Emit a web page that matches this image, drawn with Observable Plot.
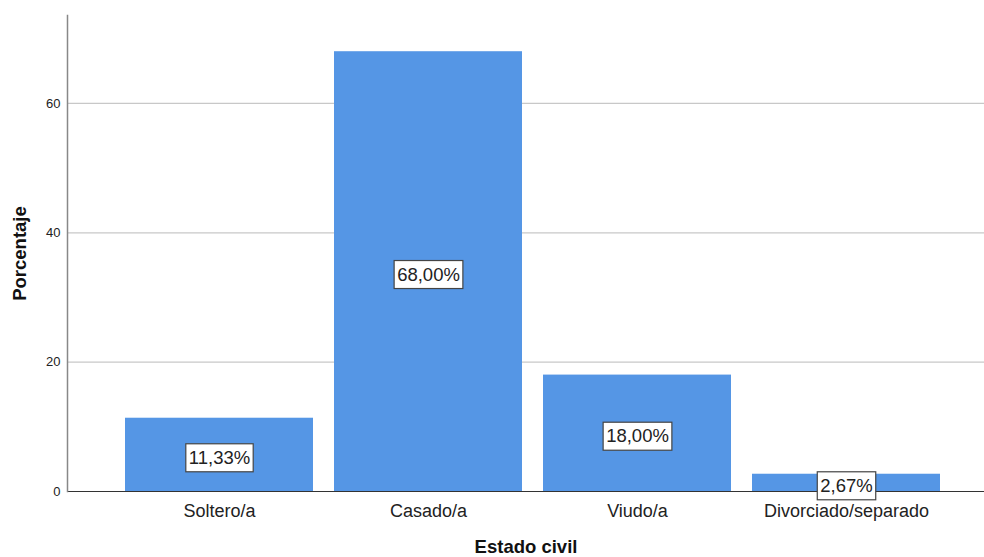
<!DOCTYPE html>
<html>
<head>
<meta charset="utf-8">
<script src="https://cdn.jsdelivr.net/npm/d3@7"></script>
<script src="https://cdn.jsdelivr.net/npm/@observablehq/plot@0.6"></script>
<style>
  html, body { margin: 0; padding: 0; background: #fff; }
  #chart { width: 984px; height: 557px; }
  svg { font-family: "Liberation Sans", Arial, sans-serif; }
</style>
</head>
<body>
<div id="chart"></div>
<script>
// Estado civil: percentage of respondents per category
const categories = ["Soltero/a", "Casado/a", "Viudo/a", "Divorciado/separado"];
const percentages = [11.33, 68.00, 18.00, 2.67];
const yTicks = [0, 20, 40, 60];

const data = categories.map((c, i) => ({ estado: c, pct: percentages[i] }));
const fmt = v => v.toFixed(2).replace(".", ",") + "%";

const W = 984, H = 557;
const mL = 67, mR = 0, mT = 15, mB = 66;

const chart = Plot.plot({
  width: W,
  height: H,
  marginLeft: mL,
  marginRight: mR,
  marginTop: mT,
  marginBottom: mB,
  style: { fontFamily: "'Liberation Sans', Arial, sans-serif", background: "#fff" },
  x: { domain: categories, range: [124, 940], paddingInner: 0.102, paddingOuter: 0, label: null },
  y: { domain: [0, 73.6], label: null },
  marks: [
    Plot.gridY(yTicks.filter(t => t > 0), { stroke: "#c8c8c8", strokeOpacity: 1, strokeWidth: 1.3 }),
    Plot.barY(data, { x: "estado", y: "pct", fill: "#5596e5" }),
    Plot.ruleY([0], { stroke: "#333", strokeWidth: 1.2 }),
    Plot.frame({ anchor: "left", stroke: "#888", strokeWidth: 1.5 }),
    Plot.axisY(yTicks, { tickSize: 0, tickPadding: 7, fontSize: 13, fill: "#222", label: null }),
    Plot.axisX({ tickSize: 0, tickPadding: 13, fontSize: 18, fill: "#222", label: null }),
    Plot.text(data, {
      x: "estado", y: d => d.pct / 2, text: d => fmt(d.pct),
      fontSize: 18.5, fill: "#222", dy: 3, className: "val-label"
    }),
    Plot.text(["Estado civil"], {
      frameAnchor: "bottom", dy: 61, text: d => d, fontSize: 18.5, fontWeight: "bold", fill: "#111"
    }),
    Plot.text(["Porcentaje"], {
      frameAnchor: "left", dx: -47, rotate: -90, textAnchor: "middle",
      text: d => d, fontSize: 18.5, fontWeight: "bold", fill: "#111"
    })
  ]
});

document.getElementById("chart").appendChild(chart);

// White boxes with a thin border behind each value label
const svgNS = "http://www.w3.org/2000/svg";
chart.querySelectorAll("g.val-label text").forEach(t => {
  const b = t.getBBox();
  const r = document.createElementNS(svgNS, "rect");
  const padX = 3, padY = 4;
  r.setAttribute("x", b.x - padX);
  r.setAttribute("y", b.y - padY + 1);
  r.setAttribute("width", b.width + 2 * padX);
  r.setAttribute("height", b.height + 2 * padY - 1);
  r.setAttribute("fill", "#fff");
  r.setAttribute("stroke", "#444");
  r.setAttribute("stroke-width", "1.2");
  if (t.getAttribute("transform")) r.setAttribute("transform", t.getAttribute("transform"));
  t.parentNode.insertBefore(r, t);
});
</script>
</body>
</html>
